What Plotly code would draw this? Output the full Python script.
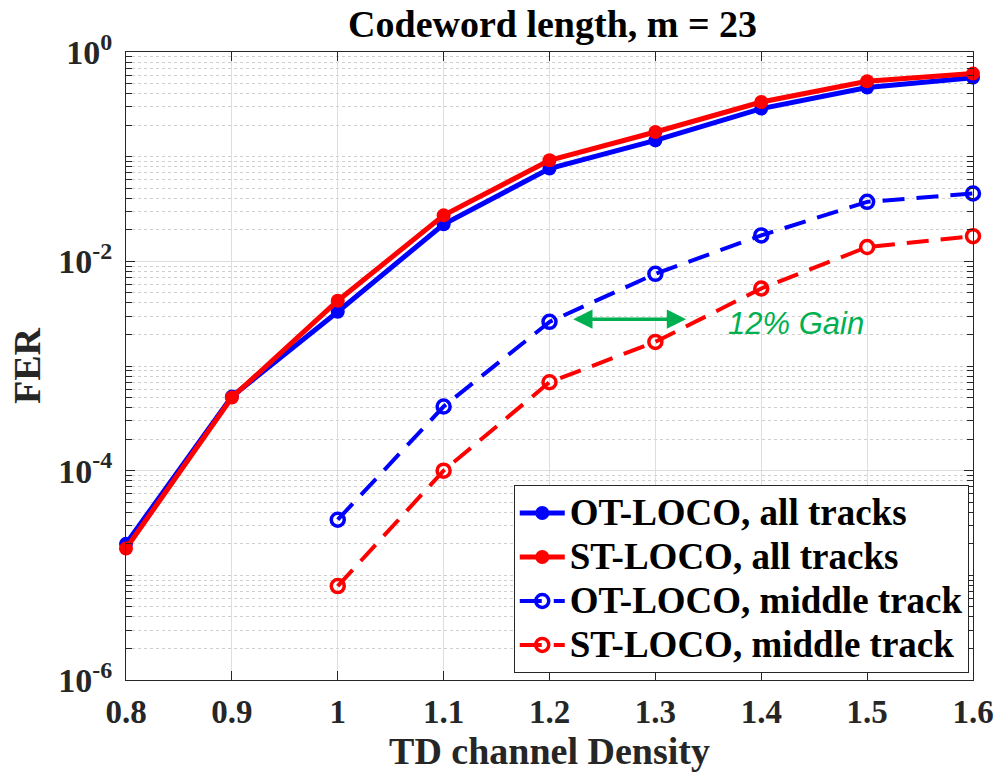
import plotly.graph_objects as go

density = [0.8, 0.9, 1.0, 1.1, 1.2, 1.3, 1.4, 1.5, 1.6]
ot_all = [2.0e-5, 5.1e-4, 3.3e-3, 0.0226, 0.0769, 0.143, 0.288, 0.457, 0.569]
st_all = [1.8e-5, 5.0e-4, 4.2e-3, 0.0275, 0.0924, 0.172, 0.333, 0.525, 0.622]
density_mid = [1.0, 1.1, 1.2, 1.3, 1.4, 1.5, 1.6]
ot_mid = [3.4e-5, 4.1e-4, 2.64e-3, 7.6e-3, 0.0177, 0.037, 0.0445]
st_mid = [7.9e-6, 1.0e-4, 7.0e-4, 1.7e-3, 5.5e-3, 0.0137, 0.0174]
series_names = ["OT-LOCO, all tracks", "ST-LOCO, all tracks",
                "OT-LOCO, middle track", "ST-LOCO, middle track"]

x_ticks = [0.8, 0.9, 1.0, 1.1, 1.2, 1.3, 1.4, 1.5, 1.6]
x_ticktext = ["0.8", "0.9", "1", "1.1", "1.2", "1.3", "1.4", "1.5", "1.6"]
y_ticks = [1e-6, 1e-4, 1e-2, 1e0]
y_exponents = ["-6", "-4", "-2", "0"]
y_minor = [k * 10.0 ** e for e in range(-6, 0) for k in range(1, 10)]

gain_arrow_x = [1.221, 1.329]
gain_arrow_logy = -2.553
gain_text_x = 1.433
gain_text_logy = -2.591

SERIF = "Liberation Serif"
AX = "#262626"

y_ticktext = ["10<sup><span style='font-size:24px'>%s</span></sup>" % e for e in y_exponents]
leg = ["<span style='font-size:37px'>%s</span>" % n for n in series_names]

fig = go.Figure()
fig.add_trace(go.Scatter(x=density, y=ot_all, mode="lines+markers", name=leg[0],
                         line=dict(color="#0000ff", width=5),
                         marker=dict(symbol="circle", size=14, color="#0000ff"),
                         cliponaxis=False))
fig.add_trace(go.Scatter(x=density, y=st_all, mode="lines+markers", name=leg[1],
                         line=dict(color="#ff0000", width=5),
                         marker=dict(symbol="circle", size=14, color="#ff0000"),
                         cliponaxis=False))
fig.add_trace(go.Scatter(x=density_mid, y=ot_mid, mode="lines+markers", name=leg[2],
                         line=dict(color="#0000ff", width=4, dash="22px,12px"),
                         marker=dict(symbol="circle-open", size=13, color="#0000ff", line=dict(width=3.5)),
                         cliponaxis=False))
fig.add_trace(go.Scatter(x=density_mid, y=st_mid, mode="lines+markers", name=leg[3],
                         line=dict(color="#ff0000", width=4, dash="22px,12px"),
                         marker=dict(symbol="circle-open", size=13, color="#ff0000", line=dict(width=3.5)),
                         cliponaxis=False))

fig.add_annotation(x=gain_arrow_x[1], y=gain_arrow_logy, ax=gain_arrow_x[0], ay=gain_arrow_logy,
                   xref="x", yref="y", axref="x", ayref="y", text="", showarrow=True,
                   arrowhead=2, arrowside="end+start", arrowsize=1.1, arrowwidth=3.5,
                   arrowcolor="#00b050", standoff=0, startstandoff=0)
fig.add_annotation(x=gain_text_x, y=gain_text_logy, xref="x", yref="y", text="12% Gain",
                   showarrow=False,
                   font=dict(family="Liberation Sans", size=31, color="#00b050", style="italic"))

fig.update_layout(
    width=1006, height=774,
    margin=dict(l=126, r=25, t=52, b=94),
    paper_bgcolor="white", plot_bgcolor="white",
    title=dict(text="Codeword length, m = 23", x=0.5493, xanchor="center", y=0.97, yanchor="middle",
               font=dict(family=SERIF, size=38, color="black", weight="bold")),
    legend=dict(x=0.995, xanchor="right", y=0.011, yanchor="bottom",
                bgcolor="white", bordercolor=AX, borderwidth=1,
                font=dict(family=SERIF, size=31.5, color="black", weight="bold"),
                itemwidth=45, tracegroupgap=0),
    showlegend=True,
)
fig.update_xaxes(
    range=[0.8, 1.6], tickmode="array", tickvals=x_ticks, ticktext=x_ticktext,
    ticks="inside", ticklen=9, tickcolor=AX, tickwidth=1,
    showline=True, linecolor=AX, linewidth=1, mirror="ticks",
    showgrid=True, gridcolor="#dedede", gridwidth=1, zeroline=False,
    tickfont=dict(family=SERIF, size=33, color=AX, weight="bold"),
    ticklabelstandoff=2,
    title=dict(text="TD channel Density", standoff=0,
               font=dict(family=SERIF, size=38, color=AX, weight="bold")),
)
fig.update_yaxes(
    type="log", range=[-6, 0], tickmode="array", tickvals=y_ticks, ticktext=y_ticktext,
    ticks="inside", ticklen=9, tickcolor=AX, tickwidth=1,
    showline=True, linecolor=AX, linewidth=1, mirror="ticks",
    showgrid=True, gridcolor="#dedede", gridwidth=1, zeroline=False,
    minor=dict(tickmode="array", tickvals=y_minor, ticks="inside", ticklen=6, tickcolor=AX,
               showgrid=True, gridcolor="#cfcfcf", griddash="dot", gridwidth=1),
    tickfont=dict(family=SERIF, size=34, color=AX, weight="bold"),
    ticklabelstandoff=6,
    title=dict(text="FER", standoff=5,
               font=dict(family=SERIF, size=38, color=AX, weight="bold")),
)

fig.write_html("out.html", config={"displayModeBar": False},
               post_script="document.body.style.margin='0';")
